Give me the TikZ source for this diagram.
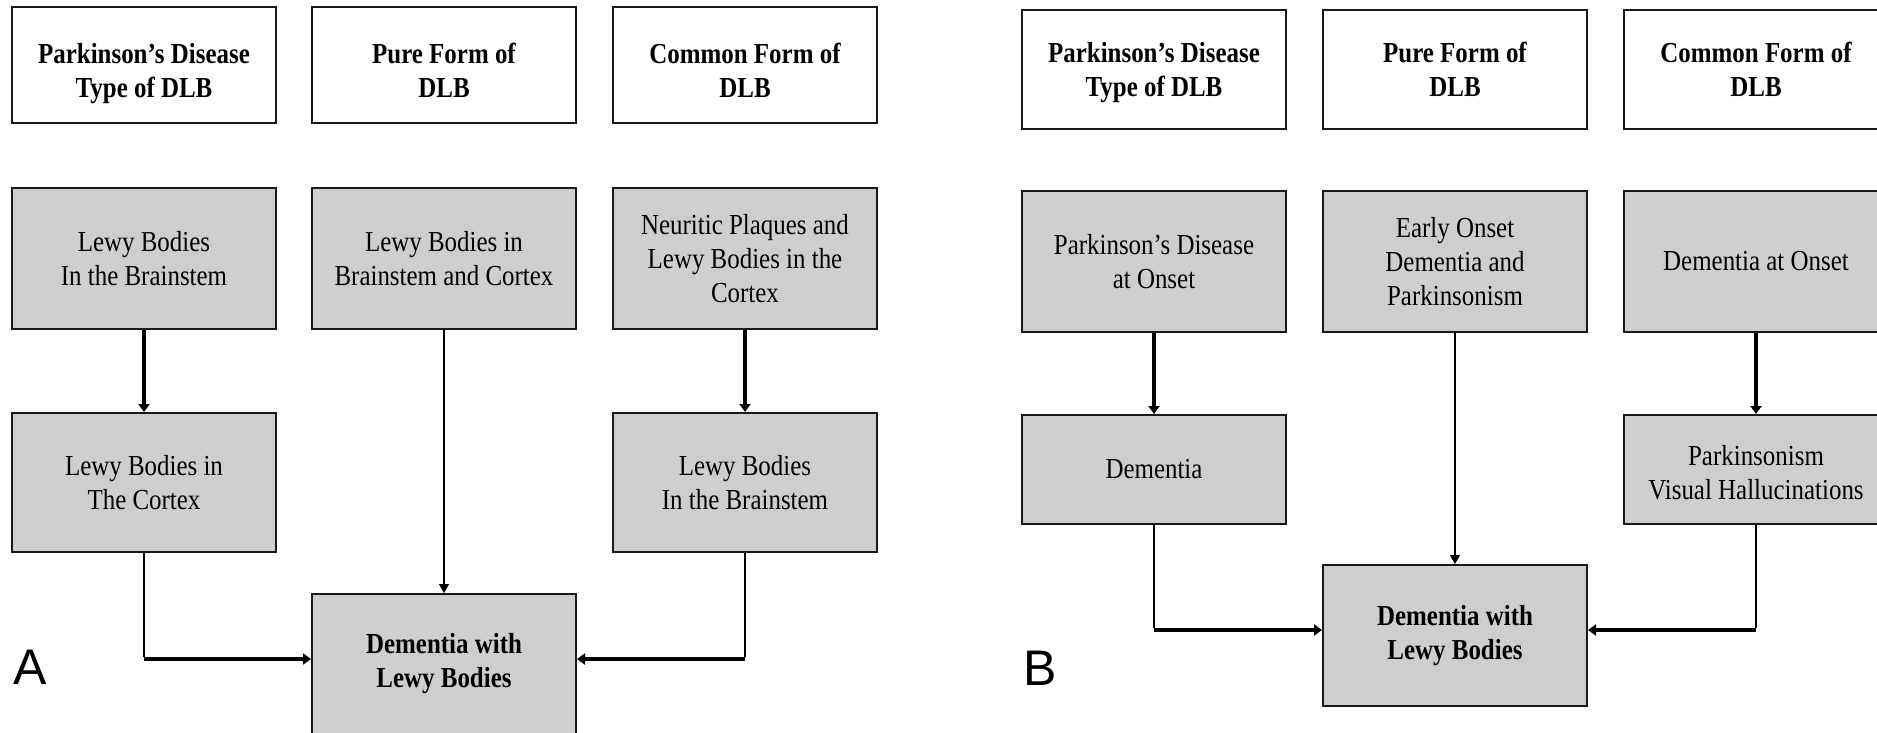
\documentclass[tikz,border=0pt]{standalone}
\usepackage{fontspec}
\setmainfont{Liberation Serif}[FakeStretch=0.86]
\newfontfamily\panelfont{Liberation Sans}
\usetikzlibrary{arrows.meta}
\definecolor{boxgray}{RGB}{206,206,206}
\definecolor{edgecol}{RGB}{25,25,25}
\newcommand{\mylift}[2]{\raisebox{#1}[\height][\depth]{\begin{tabular}{@{}c@{}}#2\end{tabular}}}
\begin{document}
\begin{tikzpicture}[x=1pt,y=-1pt,
  box/.style={draw=edgecol, line width=2pt, minimum width=264pt, inner sep=0pt, align=center,
              font=\fontsize{29}{34}\selectfont},
  hdr/.style={box, fill=white, font=\fontsize{29}{34}\selectfont\bfseries},
  gbox/.style={box, fill=boxgray},
  dlbbox/.style={gbox, font=\fontsize{29}{34}\selectfont\bfseries},
  strongarrow/.style={draw=black, line width=3.5pt, -{Triangle[width=11pt,length=8pt]}},
  thinarrow/.style={draw=black, line width=1.3pt, -{Triangle[width=10pt,length=9pt]}},
  thinline/.style={draw=black, line width=1.3pt},
  panel/.style={font=\panelfont\fontsize{50}{60}\selectfont, inner sep=0pt, anchor=base west}
]
\useasboundingbox (0,0) rectangle (1877,733);
\clip (0,0) rectangle (1877,733);
\fill[white] (0,0) rectangle (1877,733);

% ---------- Panel A ----------
\node[hdr, minimum height=116pt] (ah1) at (144,65) {\mylift{-9pt}{Parkinson's Disease\\Type of DLB}};
\node[hdr, minimum height=116pt] (ah2) at (444,65) {\mylift{-9pt}{Pure Form of\\DLB}};
\node[hdr, minimum height=116pt] (ah3) at (745,65) {\mylift{-9pt}{Common Form of\\DLB}};

\node[gbox, minimum height=141pt] (ar1) at (144,258.5) {Lewy Bodies\\In the Brainstem};
\node[gbox, minimum height=141pt] (ar2) at (444,258.5) {Lewy Bodies in\\Brainstem and Cortex};
\node[gbox, minimum height=141pt] (ar3) at (745,258.5) {Neuritic Plaques and\\Lewy Bodies in the\\Cortex};

\node[gbox, minimum height=139pt] (al1) at (144,482.5) {Lewy Bodies in\\The Cortex};
\node[gbox, minimum height=139pt] (al3) at (745,482.5) {Lewy Bodies\\In the Brainstem};

\node[dlbbox, minimum height=140pt] (adlb) at (444,664) {Dementia with\\Lewy Bodies};

\coordinate (ac1) at (144,659);
\coordinate (ac3) at (745,659);

\draw[strongarrow] (ar1) -- (al1);
\draw[thinarrow] (ar2) -- (adlb);
\draw[strongarrow] (ar3) -- (al3);
\draw[thinline] (al1.south) -- ([yshift=1.75pt]ac1);
\draw[thinline] (al3.south) -- ([yshift=1.75pt]ac3);
\draw[strongarrow] (ac1) -- (ac1 -| adlb.west);
\draw[strongarrow] (ac3) -- (ac3 -| adlb.east);

\node[panel] (labA) at (13,684) {A};

% ---------- Panel B ----------
\node[hdr, minimum height=119pt] (bh1) at (1154,69.5) {\mylift{-3pt}{Parkinson's Disease\\Type of DLB}};
\node[hdr, minimum height=119pt] (bh2) at (1455,69.5) {\mylift{-3pt}{Pure Form of\\DLB}};
\node[hdr, minimum height=119pt] (bh3) at (1756,69.5) {\mylift{-3pt}{Common Form of\\DLB}};

\node[gbox, minimum height=141pt] (br1) at (1154,261.5) {Parkinson's Disease\\at Onset};
\node[gbox, minimum height=141pt] (br2) at (1455,261.5) {Early Onset\\Dementia and\\Parkinsonism};
\node[gbox, minimum height=141pt] (br3) at (1756,261.5) {Dementia at Onset};

\node[gbox, minimum height=109pt] (bl1) at (1154,469.5) {Dementia};
\node[gbox, minimum height=109pt] (bl3) at (1756,469.5) {\mylift{-6pt}{Parkinsonism\\Visual Hallucinations}};

\node[dlbbox, minimum height=141pt] (bdlb) at (1455,635.5) {Dementia with\\Lewy Bodies};

\coordinate (bc1) at (1154,630);
\coordinate (bc3) at (1756,630);

\draw[strongarrow] (br1) -- (bl1);
\draw[thinarrow] (br2) -- (bdlb);
\draw[strongarrow] (br3) -- (bl3);
\draw[thinline] (bl1.south) -- ([yshift=1.75pt]bc1);
\draw[thinline] (bl3.south) -- ([yshift=1.75pt]bc3);
\draw[strongarrow] (bc1) -- (bc1 -| bdlb.west);
\draw[strongarrow] (bc3) -- (bc3 -| bdlb.east);

\node[panel] (labB) at (1023,685) {B};
\end{tikzpicture}
\end{document}
